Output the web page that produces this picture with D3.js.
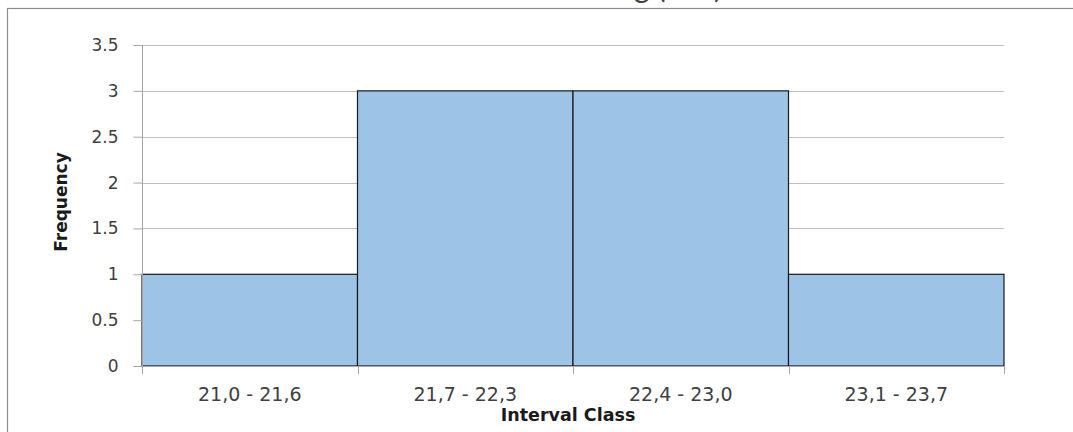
<!DOCTYPE html>
<html>
<head>
<meta charset="utf-8">
<script src="https://cdn.jsdelivr.net/npm/d3@7"></script>
<style>
  html, body { margin: 0; padding: 0; background: #fff; }
  svg { display: block; }
</style>
</head>
<body>
<svg id="chart" width="1073" height="432"></svg>
<script>
// Frequency histogram of interval classes
const categories = ["21,0 - 21,6", "21,7 - 22,3", "22,4 - 23,0", "23,1 - 23,7"];
const frequencies = [1, 3, 3, 1];
const yTicks = [0, 0.5, 1, 1.5, 2, 2.5, 3, 3.5];
const yTickLabels = ["0", "0.5", "1", "1.5", "2", "2.5", "3", "3.5"];
const chartTitle = "Diameter Batang (mm)";
const xTitle = "Interval Class";
const yTitle = "Frequency";

const svg = d3.select("#chart");
const W = 1073, H = 432;
const plot = { left: 142, right: 1004, top: 45, bottom: 366 };

// Outer chart frame
svg.append("rect")
  .attr("x", 7.5).attr("y", 8.5)
  .attr("width", W).attr("height", H)
  .attr("fill", "#fff")
  .attr("stroke", "#8c8c8c")
  .attr("stroke-width", 1.2);

// Title, mostly above the visible area
svg.append("text")
  .attr("x", 722).attr("y", -2.5)
  .attr("text-anchor", "end")
  .attr("font-family", "Lato, 'DejaVu Sans', sans-serif")
  .attr("font-size", 30)
  .attr("fill", "#404040")
  .text(chartTitle);

const x = d3.scaleBand()
  .domain(categories)
  .range([plot.left, plot.right])
  .paddingInner(0).paddingOuter(0);

const y = d3.scaleLinear()
  .domain([0, 3.5])
  .range([plot.bottom, plot.top]);

// Horizontal gridlines
svg.append("g")
  .selectAll("line")
  .data(yTicks.filter(d => d > 0))
  .join("line")
  .attr("x1", plot.left).attr("x2", plot.right)
  .attr("y1", d => Math.round(y(d)) + 0.5)
  .attr("y2", d => Math.round(y(d)) + 0.5)
  .attr("stroke", "#bfbfbf")
  .attr("stroke-width", 1);

// Bars
svg.append("g")
  .selectAll("rect")
  .data(categories.map((c, i) => ({ c, v: frequencies[i] })))
  .join("rect")
  .attr("x", d => x(d.c))
  .attr("y", d => y(d.v))
  .attr("width", x.bandwidth())
  .attr("height", d => y(0) - y(d.v))
  .attr("fill", "#9dc3e6")
  .attr("stroke", "#1a1a1a")
  .attr("stroke-width", 1.2);

// Y axis
const yAxis = d3.axisLeft(y)
  .tickValues(yTicks)
  .tickFormat((d, i) => yTickLabels[i])
  .tickSize(9)
  .tickPadding(15);

const gy = svg.append("g")
  .attr("transform", `translate(${plot.left + 0.5},0)`)
  .call(yAxis);
gy.select(".domain").attr("stroke", "#a6a6a6").attr("d", `M0,${plot.top}V${plot.bottom}`);
gy.selectAll(".tick line").attr("stroke", "#a6a6a6");
gy.selectAll(".tick text")
  .attr("font-family", "'DejaVu Sans', sans-serif")
  .attr("font-size", 17)
  .attr("fill", "#404040");

// X axis with ticks on class boundaries
const boundaries = categories.map(c => x(c)).concat([plot.right]);
const gx = svg.append("g");
gx.append("line")
  .attr("x1", plot.left).attr("x2", plot.right)
  .attr("y1", plot.bottom + 0.5).attr("y2", plot.bottom + 0.5)
  .attr("stroke", "#a6a6a6");
gx.selectAll("line.tick")
  .data(boundaries)
  .join("line")
  .attr("class", "tick")
  .attr("x1", d => Math.round(d) + 0.5).attr("x2", d => Math.round(d) + 0.5)
  .attr("y1", plot.bottom).attr("y2", plot.bottom + 8)
  .attr("stroke", "#a6a6a6");
gx.selectAll("text")
  .data(categories)
  .join("text")
  .attr("x", d => x(d) + x.bandwidth() / 2)
  .attr("y", 401)
  .attr("text-anchor", "middle")
  .attr("font-family", "'DejaVu Sans', sans-serif")
  .attr("font-size", 19)
  .attr("fill", "#404040")
  .text(d => d);

// Axis titles
svg.append("text")
  .attr("x", 568).attr("y", 421)
  .attr("text-anchor", "middle")
  .attr("font-family", "'DejaVu Sans', sans-serif")
  .attr("font-weight", "bold")
  .attr("font-size", 17.5)
  .attr("fill", "#1a1a1a")
  .text(xTitle);

svg.append("text")
  .attr("transform", "translate(67,202) rotate(-90)")
  .attr("text-anchor", "middle")
  .attr("font-family", "'DejaVu Sans', sans-serif")
  .attr("font-weight", "bold")
  .attr("font-size", 17)
  .attr("fill", "#1a1a1a")
  .text(yTitle);
</script>
</body>
</html>
